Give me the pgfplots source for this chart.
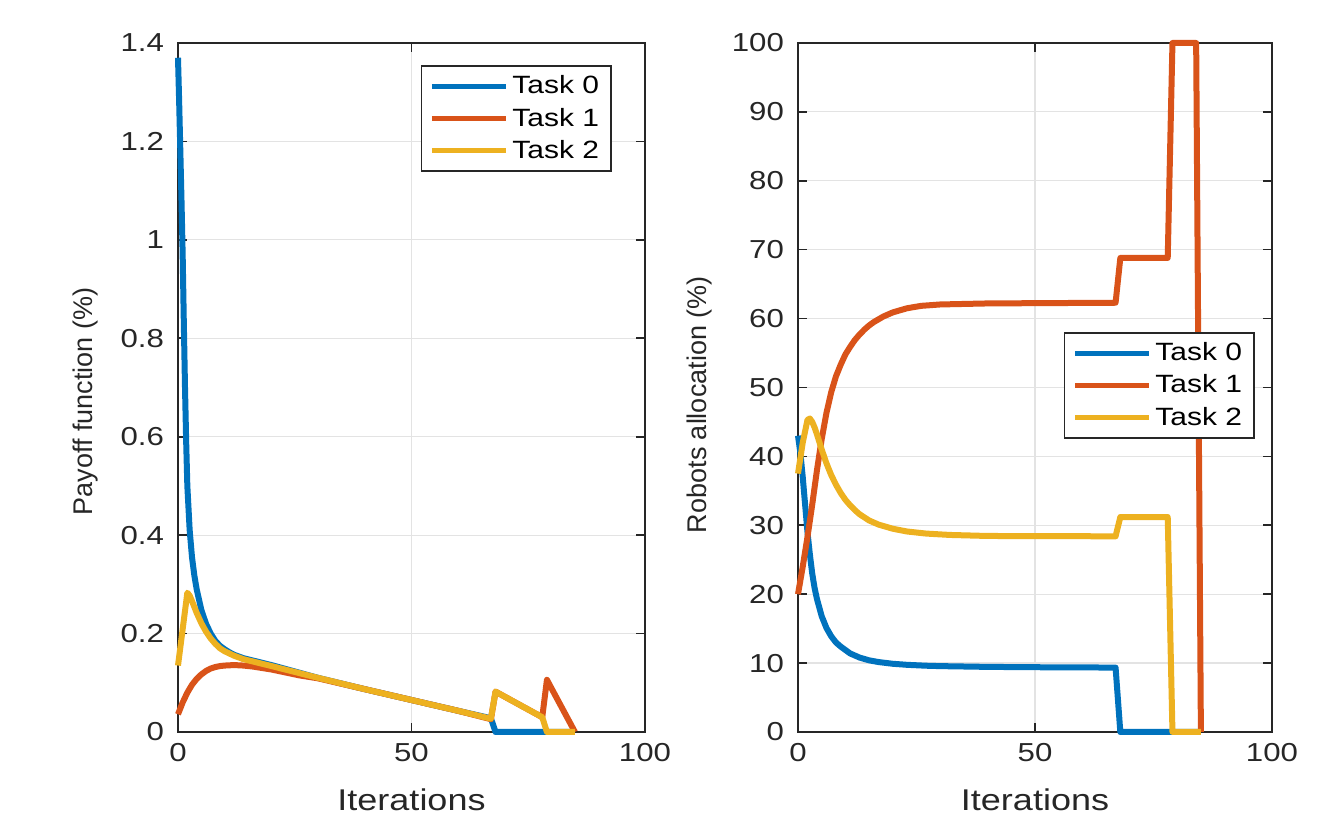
\documentclass[border=0pt]{standalone}
\usepackage{pgfplots}
\pgfplotsset{compat=1.18}
\usepackage{fontspec}
\setmainfont[FakeStretch=1.2]{Liberation Sans}
\newfontfamily\ylfont{Liberation Sans}
\definecolor{mblue}{HTML}{0072BD}
\definecolor{morange}{HTML}{D95319}
\definecolor{myellow}{HTML}{EDB120}
\definecolor{axgray}{HTML}{262626}
\definecolor{gridgray}{HTML}{E3E3E3}

\pgfplotsset{mystyle/.style={
  scale only axis, height=344.5pt,
  xmin=0, xmax=100, xtick={0,50,100},
  grid=major, major grid style={line width=0.6pt, draw=gridgray},
  axis line style={line width=0.8pt, draw=axgray},
  tick style={line width=0.8pt, draw=axgray},
  major tick length=4.5pt, tick align=inside,
  clip=false,
  /pgf/number format/assume math mode=true,
  ticklabel style={font=\fontsize{13}{15}\selectfont, text=axgray},
  xticklabel style={yshift=-2pt},
  yticklabel style={xshift=-3.5pt},
  xlabel style={at={(axis description cs:0.5,0)}, anchor=center, yshift=-34pt, font=\fontsize{15}{18}\selectfont, text=axgray},
  every axis plot/.append style={line width=3pt, line join=round},
  legend cell align=left,
  legend style={draw=axgray, line width=0.8pt, fill=white, font=\fontsize{12.5}{14}\selectfont, inner xsep=4pt, inner ysep=3pt, row sep=1.5pt, anchor=north east},
  legend image code/.code={\draw[#1, line width=2.4pt] (0pt,0pt) -- (37pt,0pt);},
}}

\begin{document}
\begin{tikzpicture}
\path[use as bounding box] (-89pt,-43pt) rectangle (578pt,366pt);

\begin{axis}[mystyle, width=233.5pt, at={(0pt,0pt)}, anchor=south west,
  ymin=0, ymax=1.4, ytick={0,0.2,0.4,0.6,0.8,1,1.2,1.4},
  ylabel={Payoff function (\%)},
  ylabel style={at={(axis description cs:-0.199,0.48)}, anchor=center, font=\ylfont\fontsize{13.5}{16}\selectfont, text=axgray},
  xlabel={Iterations},
  legend style={at={(0.929,0.968)}}]
\addplot[mblue] coordinates {
(0,1.370) (0.25,1.280) (0.5,1.180) (0.75,1.080) (1,0.970) (1.25,0.830)
(1.5,0.700) (1.75,0.590) (2,0.500) (2.5,0.410) (3,0.355) (3.5,0.318)
(4,0.290) (5,0.248) (6,0.220) (7,0.200) (8,0.185) (9,0.175) (10,0.168)
(11,0.162) (12,0.157) (14,0.150) (17,0.143) (20,0.136) (25,0.123)
(30,0.110) (40,0.087) (50,0.065) (60,0.043) (67,0.028) (68,0) (85,0)};
\addlegendentry{Task 0}
\addplot[morange] coordinates {
(0,0.036) (0.5,0.048) (1,0.060) (1.5,0.070) (2,0.080) (3,0.096) (4,0.108)
(5,0.117) (6,0.124) (7,0.129) (8,0.132) (9,0.134) (10,0.135) (12,0.136)
(14,0.135) (16,0.133) (18,0.130) (20,0.127) (23,0.121) (26,0.115)
(30,0.109) (40,0.087) (50,0.065) (60,0.043) (67,0.026)
(68,0.082) (78,0.030) (79,0.106) (85,0)};
\addlegendentry{Task 1}
\addplot[myellow] coordinates {
(0,0.135) (2,0.283) (2.5,0.277) (3,0.266) (3.5,0.254) (4,0.242) (5,0.221)
(6,0.204) (7,0.190) (8,0.179) (9,0.170) (10,0.164) (12,0.155) (14,0.148)
(17,0.141) (20,0.134) (25,0.122) (30,0.110) (40,0.087) (50,0.065)
(60,0.043) (67,0.027) (68,0.082) (78,0.030) (79,0) (85,0)};
\addlegendentry{Task 2}
\end{axis}

\begin{axis}[mystyle, width=237pt, at={(310pt,0pt)}, anchor=south west,
  ymin=0, ymax=100, ytick={0,10,...,100},
  ylabel={Robots allocation (\%)},
  ylabel style={at={(axis description cs:-0.207,0.475)}, anchor=center, font=\ylfont\fontsize{13.5}{16}\selectfont, text=axgray},
  xlabel={Iterations},
  legend style={at={(0.964,0.5806)}}]
\addplot[mblue] coordinates {
(0,43) (0.5,40.5) (1,37) (1.5,33) (2,29) (2.5,25.8) (3,23) (3.5,20.9)
(4,19.3) (5,16.8) (6,15.1) (7,13.9) (8,13.0) (9,12.4) (10,11.9) (11,11.4)
(12,11.1) (13,10.8) (15,10.4) (17,10.15) (20,9.9) (23,9.75) (27,9.62)
(30,9.56) (40,9.45) (50,9.4) (67,9.35) (68,0) (85,0)};
\addlegendentry{Task 0}
\addplot[morange] coordinates {
(0,20) (1,24) (2,28.3) (3,33) (4,38) (5,42.5) (6,46.3) (7,49.3) (8,51.6)
(9,53.3) (10,54.8) (11,55.9) (12,56.9) (13,57.7) (14,58.4) (15,59.0)
(16,59.5) (18,60.3) (20,60.9) (23,61.5) (26,61.85) (30,62.05) (40,62.2)
(67,62.3) (68,68.8) (78,68.8) (79,100) (84,100) (85,0)};
\addlegendentry{Task 1}
\addplot[myellow] coordinates {
(0,37.5) (1,42) (2,45.3) (2.5,45.5) (3,45) (3.5,44.2) (4,43.2) (5,41)
(6,39) (7,37.3) (8,35.9) (9,34.7) (10,33.7) (11,32.9) (12,32.2) (13,31.6)
(15,30.7) (17,30.1) (20,29.5) (23,29.1) (27,28.8) (32,28.6) (40,28.45)
(67,28.4) (68,31.2) (78,31.2) (79,0) (85,0)};
\addlegendentry{Task 2}
\end{axis}
\end{tikzpicture}
\end{document}
